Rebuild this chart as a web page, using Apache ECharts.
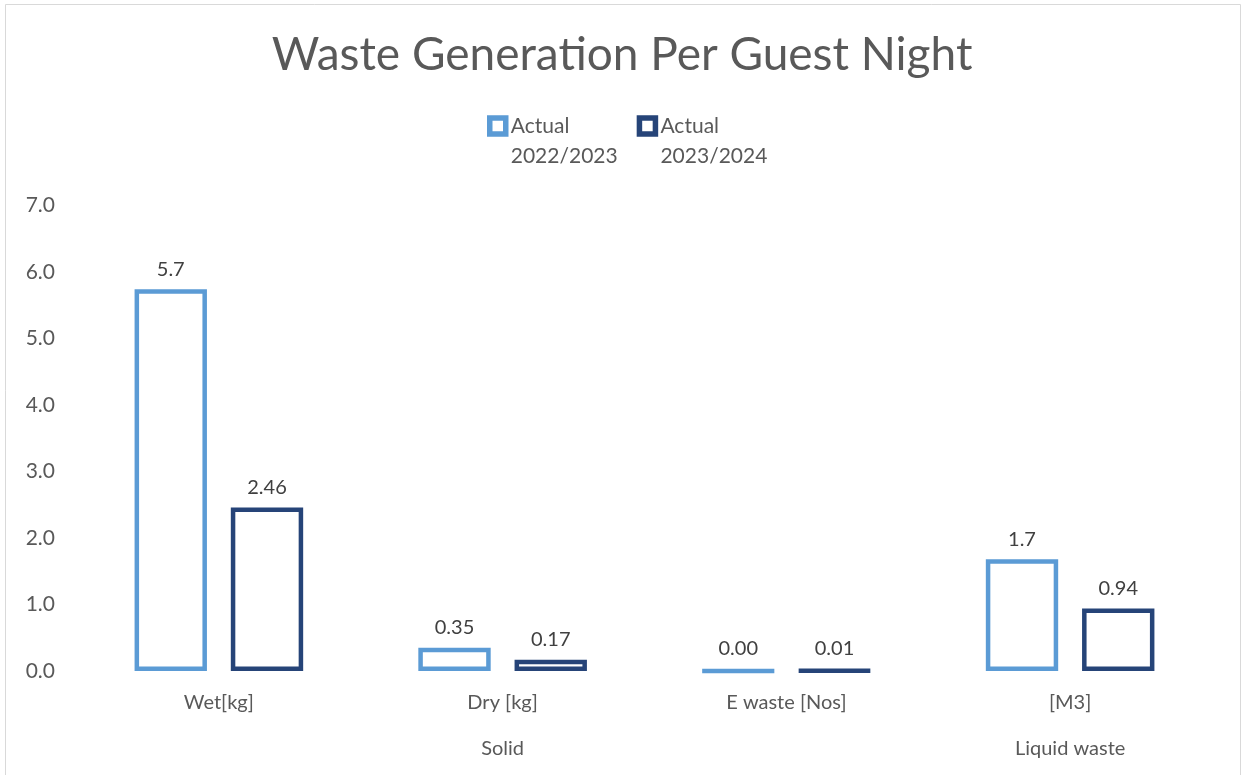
<!DOCTYPE html>
<html>
<head>
<meta charset="utf-8">
<script src="https://cdn.jsdelivr.net/npm/echarts@6/dist/echarts.min.js"></script>
<style>
html,body{margin:0;padding:0;background:#fff;}
#chart{width:1244px;height:775px;}
</style>
</head>
<body>
<div id="chart"></div>
<script>
const categories = ['Wet[kg]', 'Dry [kg]', 'E waste [Nos]', '[M3]'];
const groupLabels = ['', 'Solid', '', 'Liquid waste'];
const seriesNames = ['Actual 2022/2023', 'Actual 2023/2024'];
const values2022 = [5.74, 0.35, 0.003, 1.68];
const values2023 = [2.46, 0.17, 0.01, 0.94];
const labels2022 = ['5.7', '0.35', '0.00', '1.7'];
const labels2023 = ['2.46', '0.17', '0.01', '0.94'];
const yTicks = [0, 1, 2, 3, 4, 5, 6, 7];

const FONT = 'Lato';
const chart = echarts.init(document.getElementById('chart'), null, {renderer: 'canvas'});

function makeSeries(name, vals, labs, color) {
  return {
    name: name,
    type: 'bar',
    data: vals,
    barWidth: '25.5%',
    barGap: '33%',
    itemStyle: {color: '#ffffff', borderColor: color, borderWidth: 4.5},
    label: {
      show: true,
      position: 'top',
      distance: 10,
      color: '#404040',
      fontSize: 20,
      fontFamily: FONT,
      formatter: p => labs[p.dataIndex]
    }
  };
}

chart.setOption({
  animation: false,
  backgroundColor: '#ffffff',
  graphic: [{
    type: 'rect',
    shape: {x: 5.5, y: 4.5, width: 1235, height: 820},
    style: {fill: 'none', stroke: '#d9d9d9', lineWidth: 1},
    silent: true,
    z: -1
  }],
  title: {
    text: 'Waste Generation Per Guest Night',
    left: 'center',
    top: 27,
    textStyle: {fontFamily: FONT, fontSize: 46, fontWeight: 'normal', color: '#595959'}
  },
  legend: {
    top: 76,
    left: 482,
    itemWidth: 16,
    itemHeight: 16,
    itemGap: 19,
    icon: 'rect',
    formatter: n => '\n' + n.replace(' ', '\n'),
    textStyle: {fontFamily: FONT, fontSize: 21, color: '#595959', lineHeight: 30},
    itemStyle: {borderWidth: 5.5}
  },
  grid: {left: 77, right: 32, top: 205.5, bottom: 104, containLabel: false},
  xAxis: [{
    type: 'category',
    data: categories,
    axisLine: {show: false},
    axisTick: {show: false},
    axisLabel: {color: '#595959', fontSize: 20, fontFamily: FONT, margin: 22}
  }, {
    type: 'category',
    data: groupLabels,
    position: 'bottom',
    offset: 46,
    axisLine: {show: false},
    axisTick: {show: false},
    axisLabel: {color: '#595959', fontSize: 20, fontFamily: FONT, margin: 22, interval: 0}
  }],
  yAxis: {
    type: 'value',
    min: yTicks[0],
    max: yTicks[yTicks.length - 1],
    interval: 1,
    axisLine: {show: false},
    axisTick: {show: false},
    splitLine: {show: false},
    axisLabel: {color: '#595959', fontSize: 21, fontFamily: FONT, margin: 22, formatter: v => v.toFixed(1)}
  },
  series: [
    makeSeries(seriesNames[0], values2022, labels2022, '#5b9bd5'),
    makeSeries(seriesNames[1], values2023, labels2023, '#264478')
  ]
});
</script>
</body>
</html>
